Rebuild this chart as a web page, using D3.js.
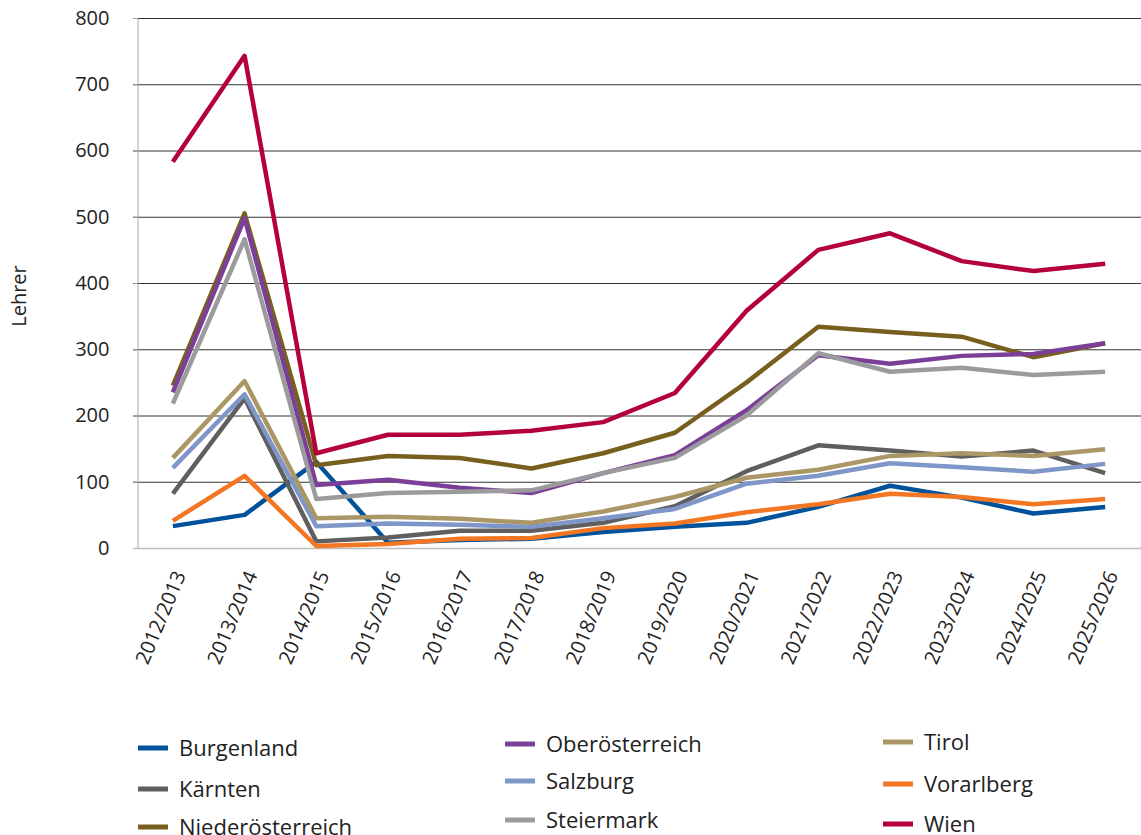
<!DOCTYPE html>
<html>
<head>
<meta charset="utf-8">
<script src="https://cdn.jsdelivr.net/npm/d3@7"></script>
<style>
  body { margin: 0; background: #fff; }
  svg text { font-family: "Open Sans", "Noto Sans", sans-serif; fill: #222; }
</style>
</head>
<body>
<svg id="chart" width="1141" height="835"></svg>
<script>
// school years on the x axis
var years = ["2012/2013", "2013/2014", "2014/2015", "2015/2016", "2016/2017", "2017/2018", "2018/2019",
             "2019/2020", "2020/2021", "2021/2022", "2022/2023", "2023/2024", "2024/2025", "2025/2026"];

// teachers per state
var burgenland       = [33, 50, 130, 8, 12, 14, 24, 32, 38, 62, 94, 76, 52, 62];
var kaernten         = [82, 226, 10, 16, 26, 26, 38, 63, 116, 155, 147, 138, 147, 113];
var niederoesterreich = [245, 505, 125, 139, 136, 120, 143, 174, 250, 334, 326, 319, 288, 309];
var oberoesterreich  = [235, 498, 95, 103, 91, 83, 113, 140, 208, 291, 278, 290, 293, 309];
var salzburg         = [121, 232, 33, 37, 35, 32, 45, 59, 97, 109, 128, 122, 115, 127];
var steiermark       = [218, 466, 74, 83, 85, 87, 113, 136, 200, 294, 266, 272, 261, 266];
var tirol            = [136, 252, 45, 47, 44, 38, 55, 77, 106, 118, 139, 143, 139, 149];
var vorarlberg       = [41, 109, 3, 6, 14, 15, 30, 37, 54, 66, 82, 77, 66, 74];
var wien             = [583, 743, 143, 171, 171, 177, 190, 234, 358, 450, 475, 433, 418, 429];

var yTicks = [0, 100, 200, 300, 400, 500, 600, 700, 800];

var series = [
  {name: "Burgenland", values: burgenland, color: "#00529c"},
  {name: "Kärnten", values: kaernten, color: "#5f5f5f"},
  {name: "Niederösterreich", values: niederoesterreich, color: "#775f1e"},
  {name: "Oberösterreich", values: oberoesterreich, color: "#7c3f98"},
  {name: "Salzburg", values: salzburg, color: "#7f96c9"},
  {name: "Steiermark", values: steiermark, color: "#9b9b9d"},
  {name: "Tirol", values: tirol, color: "#ab9766"},
  {name: "Vorarlberg", values: vorarlberg, color: "#f37722"},
  {name: "Wien", values: wien, color: "#b4003c"}
];

var svg = d3.select("#chart");
var margin = {top: 18, right: 0, bottom: 287, left: 137};
var width = +svg.attr("width"), height = +svg.attr("height");

var x = d3.scalePoint()
  .domain(years)
  .range([margin.left, width - margin.right])
  .padding(0.5);

var y = d3.scaleLinear()
  .domain([0, 800])
  .range([height - margin.bottom, margin.top]);

// grid lines
svg.append("g")
  .selectAll("line")
  .data(yTicks.filter(function(d) { return d > 0; }))
  .enter().append("line")
    .attr("x1", margin.left - 4)
    .attr("x2", width - margin.right)
    .attr("y1", function(d) { return y(d) + 0.5; })
    .attr("y2", function(d) { return y(d) + 0.5; })
    .attr("stroke", "#333")
    .attr("stroke-width", 1);

// y axis
var yAxis = svg.append("g")
  .attr("transform", "translate(" + (margin.left + 0.5) + ",0)")
  .call(d3.axisLeft(y).tickValues(yTicks).tickSize(4).tickPadding(24));
yAxis.select(".domain").attr("stroke", "#a8a8a8");
yAxis.selectAll(".tick line").attr("stroke", "#a8a8a8");
yAxis.selectAll("text")
  .style("font-size", "20px")
  .attr("fill", "#222");

// zero line
svg.append("line")
  .attr("x1", margin.left - 4)
  .attr("x2", width - margin.right)
  .attr("y1", y(0) + 0.5)
  .attr("y2", y(0) + 0.5)
  .attr("stroke", "#bdbdbd")
  .attr("stroke-width", 1.5);

// x labels
svg.append("g")
  .selectAll("text")
  .data(years)
  .enter().append("text")
    .attr("transform", function(d) { return "translate(" + (x(d) + 7) + "," + (y(0) + 24) + ") rotate(-67)"; })
    .attr("text-anchor", "end")
    .attr("dy", "0.35em")
    .style("font-size", "20px")
    .text(function(d) { return d; });

// y title
svg.append("text")
  .attr("transform", "translate(26,296) rotate(-90)")
  .attr("text-anchor", "middle")
  .style("font-size", "20px")
  .text("Lehrer");

var line = d3.line()
  .x(function(d, i) { return x(years[i]); })
  .y(function(d) { return y(d); });

svg.append("g")
  .selectAll("path")
  .data(series)
  .enter().append("path")
    .attr("d", function(d) { return line(d.values); })
    .attr("fill", "none")
    .attr("stroke", function(d) { return d.color; })
    .attr("stroke-width", 4.5)
    .attr("stroke-linejoin", "round");

// legend, three columns
var legendPos = [
  [138, 748], [138, 789], [138, 827],
  [505, 744], [505, 781], [505, 820],
  [883, 742], [883, 784], [883, 824]
];

var legend = svg.append("g")
  .selectAll("g")
  .data(series)
  .enter().append("g")
    .attr("transform", function(d, i) { return "translate(" + legendPos[i][0] + "," + legendPos[i][1] + ")"; });

legend.append("line")
  .attr("x1", 0).attr("x2", 30)
  .attr("stroke", function(d) { return d.color; })
  .attr("stroke-width", 5);

legend.append("text")
  .attr("x", 41)
  .attr("dy", "0.35em")
  .style("font-size", "22px")
  .text(function(d) { return d.name; });
</script>
</body>
</html>
